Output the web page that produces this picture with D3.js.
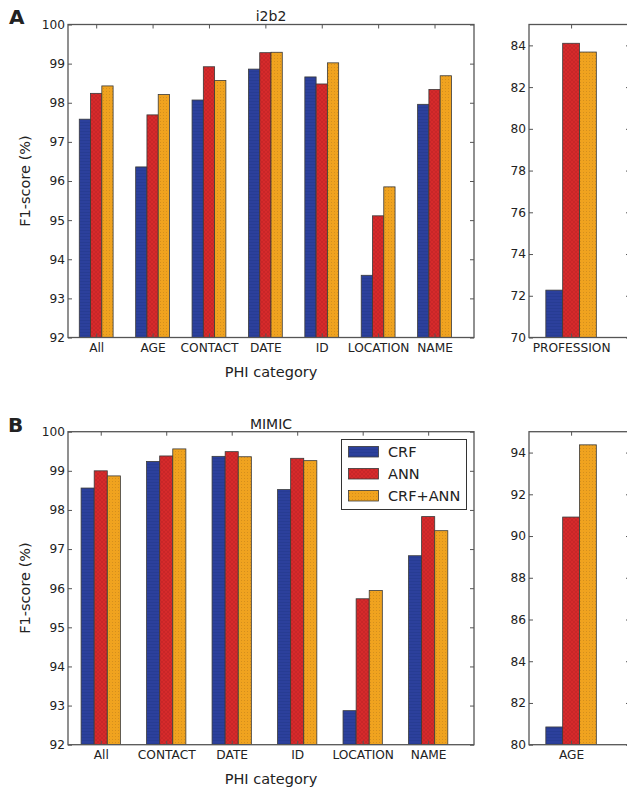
<!DOCTYPE html>
<html>
<head>
<meta charset="utf-8">
<script src="https://cdn.jsdelivr.net/npm/d3@7"></script>
<style>
  html, body { margin: 0; padding: 0; background: #fff; }
  svg { display: block; }
  text { font-family: "DejaVu Sans", sans-serif; fill: #222; }
</style>
</head>
<body>
<svg id="chart" width="627" height="788"></svg>
<script>
// ---------------- data ----------------
const seriesNames = ["CRF", "ANN", "CRF+ANN"];

const i2b2Categories = ["All", "AGE", "CONTACT", "DATE", "ID", "LOCATION", "NAME"];
const i2b2CRF    = [97.58, 96.36, 98.07, 98.86, 98.66, 93.59, 97.96];
const i2b2ANN    = [98.24, 97.69, 98.92, 99.28, 98.48, 95.11, 98.34];
const i2b2CRFANN = [98.43, 98.21, 98.57, 99.29, 99.02, 95.85, 98.69];

const i2b2SideCategories = ["PROFESSION"];
const i2b2SideCRF    = [72.27];
const i2b2SideANN    = [84.10];
const i2b2SideCRFANN = [83.68];

const mimicCategories = ["All", "CONTACT", "DATE", "ID", "LOCATION", "NAME"];
const mimicCRF    = [98.56, 99.24, 99.37, 98.52, 92.87, 96.83];
const mimicANN    = [99.00, 99.38, 99.49, 99.32, 95.73, 97.83];
const mimicCRFANN = [98.87, 99.56, 99.36, 99.26, 95.94, 97.47];

const mimicSideCategories = ["AGE"];
const mimicSideCRF    = [80.85];
const mimicSideANN    = [90.91];
const mimicSideCRFANN = [94.37];

const mainYTicks = [92, 93, 94, 95, 96, 97, 98, 99, 100];
const professionYTicks = [70, 72, 74, 76, 78, 80, 82, 84];
const ageYTicks = [80, 82, 84, 86, 88, 90, 92, 94];

// ---------------- styles ----------------
const colors = ["#2c409c", "#d62a2b", "#f0a31f"];
const patternIds = ["patBlue", "patRed", "patOrange"];
const spineColor = "#555";

const svg = d3.select("#chart");
const defs = svg.append("defs");

// subtle hatch textures
(function makePatterns() {
  let p = defs.append("pattern").attr("id", patternIds[0]).attr("patternUnits", "userSpaceOnUse")
    .attr("width", 3).attr("height", 3);
  p.append("rect").attr("width", 3).attr("height", 3).attr("fill", colors[0]);
  p.append("rect").attr("y", 2).attr("width", 3).attr("height", 0.8).attr("fill", "#24378a").attr("opacity", 0.7);
  p = defs.append("pattern").attr("id", patternIds[1]).attr("patternUnits", "userSpaceOnUse")
    .attr("width", 4).attr("height", 4);
  p.append("rect").attr("width", 4).attr("height", 4).attr("fill", colors[1]);
  p.append("path").attr("d", "M0,0 L4,4 M4,0 L0,4").attr("stroke", "#b52224").attr("stroke-width", 0.6).attr("opacity", 0.7);
  p = defs.append("pattern").attr("id", patternIds[2]).attr("patternUnits", "userSpaceOnUse")
    .attr("width", 3).attr("height", 3);
  p.append("rect").attr("width", 3).attr("height", 3).attr("fill", colors[2]);
  p.append("circle").attr("cx", 1.5).attr("cy", 1.5).attr("r", 0.55).attr("fill", "#c8861a").attr("opacity", 0.8);
})();

function drawPanel(cfg) {
  const { x0, x1, y0, y1, categories, series, yDomain, yTicks } = cfg;
  const n = categories.length;
  const barW = 0.2;
  const x = d3.scaleLinear().domain([-0.2, n]).range([x0, x1]);
  const y = d3.scaleLinear().domain(yDomain).range([y1, y0]);

  const g = svg.append("g");
  const clipId = "clip" + Math.round(x0) + "_" + Math.round(y0);
  defs.append("clipPath").attr("id", clipId)
    .append("rect").attr("x", x0).attr("y", y0).attr("width", x1 - x0).attr("height", y1 - y0);

  const barsG = g.append("g").attr("clip-path", `url(#${clipId})`);
  series.forEach((vals, k) => {
    barsG.selectAll(null).data(vals).enter().append("rect")
      .attr("x", (d, i) => x(i + k * barW))
      .attr("width", x(barW) - x(0))
      .attr("y", d => y(d))
      .attr("height", d => y(yDomain[0]) - y(d))
      .attr("fill", `url(#${patternIds[k]})`)
      .attr("stroke", "#3a3a3a")
      .attr("stroke-width", 0.8);
  });

  const tickLen = 4;
  const centers = categories.map((c, i) => i + 1.5 * barW);

  const bottom = d3.axisBottom(x).tickValues(centers).tickFormat((d, i) => categories[i])
    .tickSizeInner(-tickLen).tickSizeOuter(0).tickPadding(5.5);
  const gb = g.append("g").attr("transform", `translate(0,${y1})`).call(bottom);
  const top = d3.axisTop(x).tickValues(centers).tickFormat("")
    .tickSizeInner(-tickLen).tickSizeOuter(0);
  const gt = g.append("g").attr("transform", `translate(0,${y0})`).call(top);
  const left = d3.axisLeft(y).tickValues(yTicks).tickFormat(d3.format("d"))
    .tickSizeInner(-tickLen).tickSizeOuter(0).tickPadding(3);
  const gl = g.append("g").attr("transform", `translate(${x0},0)`).call(left);
  const right = d3.axisRight(y).tickValues(yTicks).tickFormat("")
    .tickSizeInner(-tickLen).tickSizeOuter(0);
  const gr = g.append("g").attr("transform", `translate(${x1},0)`).call(right);

  [gb, gt, gl, gr].forEach(a => {
    a.select(".domain").remove();
    a.selectAll(".tick line").attr("stroke", spineColor).attr("stroke-width", 1);
    a.selectAll(".tick text").attr("font-family", "DejaVu Sans, sans-serif").attr("font-size", 12.2).attr("fill", "#222");
  });

  g.append("rect").attr("x", x0).attr("y", y0).attr("width", x1 - x0).attr("height", y1 - y0)
    .attr("fill", "none").attr("stroke", spineColor).attr("stroke-width", 1.3);

  return { x, y, g };
}

// ---------------- panel A ----------------
drawPanel({
  x0: 68, x1: 474, y0: 24.5, y1: 337.5,
  categories: i2b2Categories,
  series: [i2b2CRF, i2b2ANN, i2b2CRFANN],
  yDomain: [92, 100], yTicks: mainYTicks
});
drawPanel({
  x0: 529, x1: 630, y0: 24.5, y1: 337.5,
  categories: i2b2SideCategories,
  series: [i2b2SideCRF, i2b2SideANN, i2b2SideCRFANN],
  yDomain: [70, 85], yTicks: professionYTicks
});

// ---------------- panel B ----------------
drawPanel({
  x0: 68, x1: 474, y0: 431.7, y1: 744.7,
  categories: mimicCategories,
  series: [mimicCRF, mimicANN, mimicCRFANN],
  yDomain: [92, 100], yTicks: mainYTicks
});
drawPanel({
  x0: 529, x1: 630, y0: 431.7, y1: 744.7,
  categories: mimicSideCategories,
  series: [mimicSideCRF, mimicSideANN, mimicSideCRFANN],
  yDomain: [80, 95], yTicks: ageYTicks
});

// ---------------- texts ----------------
function label(txt, x, y, opts = {}) {
  const t = svg.append("text").attr("x", x).attr("y", y).text(txt)
    .attr("font-size", opts.size || 14)
    .attr("text-anchor", opts.anchor || "middle");
  if (opts.weight) t.attr("font-weight", opts.weight);
  if (opts.family) t.attr("font-family", opts.family);
  if (opts.rotate) t.attr("transform", `rotate(${opts.rotate},${x},${y})`);
  return t;
}

label("A", 9, 24, { size: 20, weight: "bold", anchor: "start", family: "Liberation Sans, Arial, sans-serif" });
label("B", 8, 432, { size: 20, weight: "bold", anchor: "start", family: "Liberation Sans, Arial, sans-serif" });
label("i2b2", 271, 20.5, { size: 14 });
label("MIMIC", 271, 428.5, { size: 14 });
label("PHI category", 271, 376.5, { size: 14.5 });
label("PHI category", 271, 783.5, { size: 14.5 });
label("F1-score (%)", 30, 181, { size: 14.5, rotate: -90 });
label("F1-score (%)", 30, 588, { size: 14.5, rotate: -90 });

// ---------------- legend ----------------
const lg = svg.append("g");
lg.append("rect").attr("x", 341.5).attr("y", 439.5).attr("width", 125).attr("height", 70)
  .attr("fill", "#fff").attr("stroke", "#333").attr("stroke-width", 1);
seriesNames.forEach((name, k) => {
  const cy = 451.7 + k * 22;
  lg.append("rect").attr("x", 348.5).attr("y", cy - 5.3).attr("width", 30).attr("height", 10.6)
    .attr("fill", `url(#${patternIds[k]})`).attr("stroke", "#3a3a3a").attr("stroke-width", 0.8);
  lg.append("text").attr("x", 388).attr("y", cy + 5.2).text(name)
    .attr("font-size", 14.5).attr("text-anchor", "start");
});
</script>
</body>
</html>
